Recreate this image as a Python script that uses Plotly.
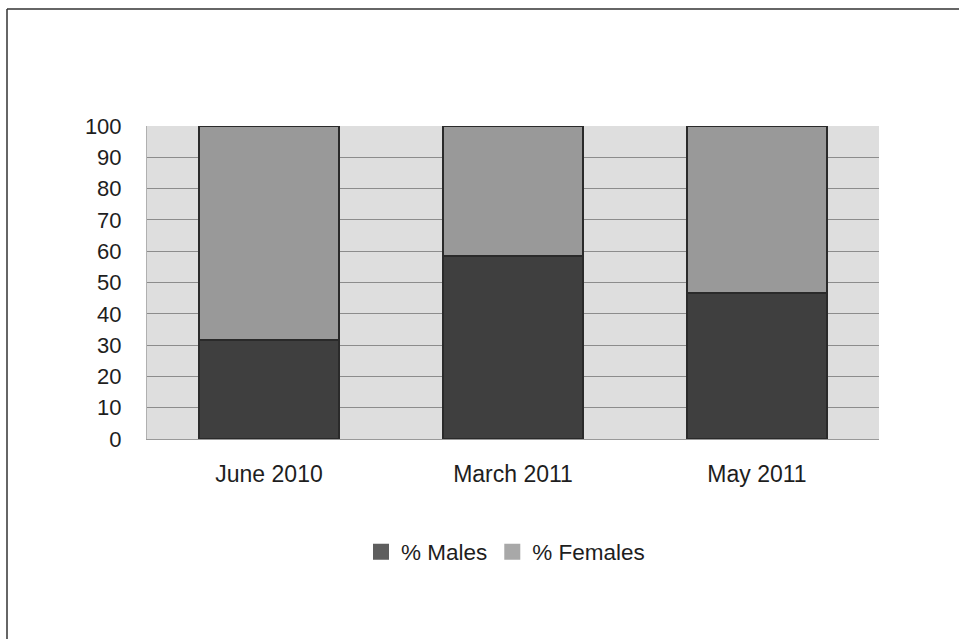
import plotly.graph_objects as go

categories = ["June 2010", "March 2011", "May 2011"]
males = [31.5, 58.5, 46.5]
females = [68.5, 41.5, 53.5]
y_ticks = [0, 10, 20, 30, 40, 50, 60, 70, 80, 90, 100]
series_names = ["% Males", "% Females"]
bar_colors = ["#3f3f3f", "#999999"]
legend_colors = ["#5e5e5e", "#a8a8a8"]

fig = go.Figure()
for name, vals, col in zip(series_names, [males, females], bar_colors):
    fig.add_trace(go.Bar(x=categories, y=vals, name=name, showlegend=False,
                         marker=dict(color=col, line=dict(color="#2a2a2a", width=2))))
for name, col in zip(series_names, legend_colors):
    fig.add_trace(go.Scatter(x=[None], y=[None], mode="markers", name=name,
                             marker=dict(symbol="square", size=18, color=col, line=dict(width=0))))

L, R, T, B = 147, 80, 126, 200
W, H = 959, 639
pw, ph = W - L - R, H - T - B
bx = (7 - L) / pw
by = (H - B - 9) / ph

fig.update_layout(
    width=W, height=H, barmode="stack", bargap=0.426,
    margin=dict(l=L, r=R, t=T, b=B),
    paper_bgcolor="white", plot_bgcolor="#dedede",
    font=dict(family="Liberation Sans, Arial, sans-serif", size=22, color="#1e1e1e"),
    showlegend=True,
    legend=dict(orientation="h", x=(505.5 - L) / pw, xanchor="center", y=(H - B - 552) / ph,
                yanchor="middle", font=dict(size=22.5), traceorder="normal", itemsizing="trace"),
    xaxis=dict(showgrid=False, showline=True, linecolor="#999999", linewidth=1,
               tickfont=dict(size=23),
               ticks="outside", ticklen=14, tickcolor="rgba(0,0,0,0)"),
    yaxis=dict(range=[0, 100], tickvals=y_ticks, showgrid=True, gridcolor="#8c8c8c", gridwidth=1,
               zeroline=False, showline=True, linecolor="#b0b0b0",
               ticks="outside", ticklen=20, tickcolor="rgba(0,0,0,0)"),
    shapes=[
        dict(type="line", xref="paper", yref="paper", x0=bx, x1=1.3, y0=by, y1=by,
             line=dict(color="#333333", width=1.5)),
        dict(type="line", xref="paper", yref="paper", x0=bx, x1=bx, y0=by, y1=-1.0,
             line=dict(color="#333333", width=1.5)),
    ],
)

fig.write_html("out.html")
